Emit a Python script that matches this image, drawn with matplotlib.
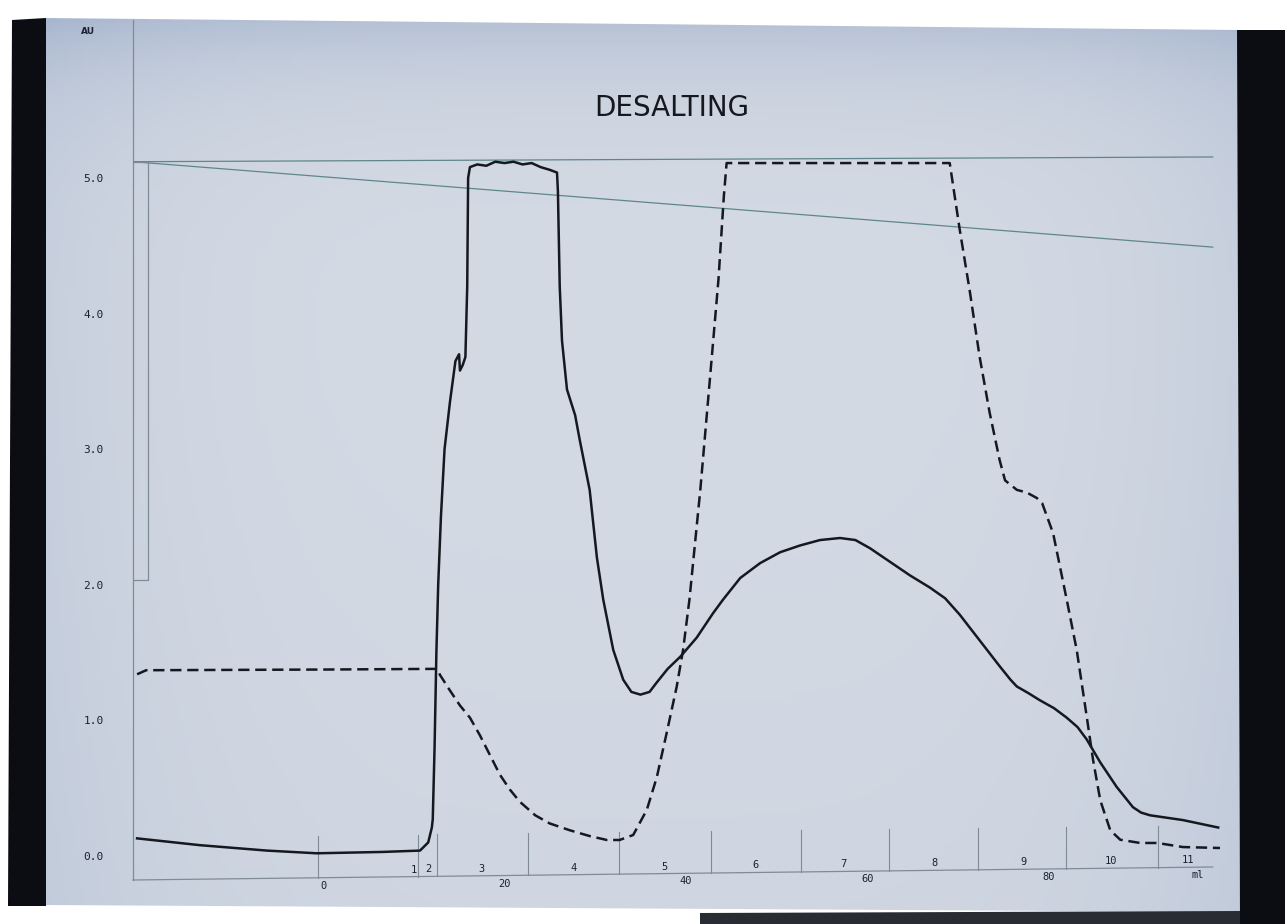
import numpy as np
import matplotlib.pyplot as plt
from matplotlib.patches import Polygon

W, H = 1285, 924

# UV trace (solid), volume in ml vs absorbance in AU
uv_ml = [-20.5, -13.6, -6.2, -0.7, 6.6, 10.7, 11.6, 12.0, 12.1, 12.3, 12.5, 12.7, 13.0,
         13.4, 14.0, 14.6, 15.0, 15.1, 15.4, 15.7, 15.9, 16.0, 16.2, 17.0, 18.0, 19.0,
         20.0, 21.0, 22.0, 23.0, 24.0, 25.0, 25.8, 25.9, 26.1, 26.35, 26.9, 27.8, 28.3,
         29.4, 30.2, 30.9, 32.0, 33.1, 34.0, 35.0, 36.0, 36.8, 38.0, 39.4, 41.2, 43.0,
         44.1, 46.0, 48.2, 50.4, 52.6, 54.8, 57.0, 58.7, 60.3, 62.5, 64.7, 66.9, 68.6,
         70.2, 72.4, 74.6, 75.8, 76.5, 77.8, 79.0, 80.6, 82.0, 83.2, 84.2, 85.7, 87.5,
         89.3, 90.2, 91.2, 94.8, 98.7]
uv_au = [0.13, 0.08, 0.04, 0.02, 0.03, 0.04, 0.10, 0.21, 0.27, 0.80, 1.50, 2.00, 2.50,
         3.00, 3.35, 3.65, 3.70, 3.58, 3.62, 3.68, 4.20, 5.00, 5.08, 5.10, 5.09, 5.12,
         5.11, 5.12, 5.10, 5.11, 5.08, 5.06, 5.04, 4.90, 4.20, 3.80, 3.44, 3.25, 3.07,
         2.70, 2.20, 1.89, 1.52, 1.30, 1.21, 1.19, 1.21, 1.28, 1.38, 1.47, 1.61, 1.79,
         1.89, 2.05, 2.16, 2.24, 2.29, 2.33, 2.345, 2.33, 2.27, 2.17, 2.07, 1.98, 1.90,
         1.78, 1.59, 1.40, 1.30, 1.25, 1.20, 1.15, 1.09, 1.02, 0.95, 0.86, 0.69, 0.51,
         0.36, 0.32, 0.30, 0.265, 0.21]

# conductivity trace (dashed)
cond_ml = [-20.5, -19.5, 0.0, 12.6, 12.9, 14.0, 15.1, 16.2, 17.3, 18.4, 19.5, 20.6,
           21.7, 23.4, 25.0, 27.2, 29.4, 31.3, 32.7, 34.2, 35.7, 36.8, 37.9, 39.0, 39.7,
           40.4, 41.6, 42.7, 43.6, 44.2, 44.5, 69.1, 70.2, 71.3, 72.4, 73.5, 74.6, 75.2,
           76.5, 77.6, 78.7, 79.3, 80.5, 82.0, 83.1, 84.2, 84.9, 85.7, 86.8, 87.9, 90.1,
           92.0, 94.8, 98.9]
cond_au = [1.34, 1.37, 1.375, 1.38, 1.335, 1.22, 1.11, 1.02, 0.89, 0.745, 0.60, 0.49,
           0.40, 0.30, 0.24, 0.19, 0.147, 0.118, 0.118, 0.155, 0.34, 0.58, 0.91, 1.25,
           1.52, 1.89, 2.70, 3.55, 4.25, 4.87, 5.11, 5.11, 4.62, 4.17, 3.68, 3.27, 2.92,
           2.77, 2.70, 2.68, 2.64, 2.60, 2.38, 1.89, 1.52, 1.03, 0.71, 0.41, 0.19, 0.12,
           0.096, 0.096, 0.066, 0.059]

# thin reference traces
range_top = [5.12, 5.155]
gradient_line = [5.12, 4.49]
inject_box_ml = [-20.95, -19.3, -19.3, -20.95]
inject_box_au = [5.12, 5.12, 2.035, 2.035]

y_ticks = [0, 1, 2, 3, 4, 5]
y_labels = ['0.0', '1.0', '2.0', '3.0', '4.0', '5.0']
vol_ticks = [0, 20, 40, 60, 80]
frac_marks = [-0.55, 10.47, 12.57, 22.6, 32.6, 42.8, 52.7, 62.4, 72.2, 81.9, 92.1]
frac_labels = ['1', '2', '3', '4', '5', '6', '7', '8', '9', '10', '11']
frac_label_ml = [10.0, 11.6, 17.5, 27.6, 37.6, 47.7, 57.4, 67.4, 77.2, 86.9, 95.4]

XMIN, XMAX = -20.95, 99.12
YMIN, YMAX = -0.177, 6.165
X_END = 98.1
base_left, base_right = -0.177, -0.081   # printout is slightly tilted in the photo

ink = '#15181f'
thin = '#5f868c'
grid_gray = '#7f8c98'
txt = '#1b2130'


def baseline(x):
    return base_left + (np.asarray(x) - XMIN) * (base_right - base_left) / (X_END - XMIN)


fig = plt.figure(figsize=(W / 100, H / 100), dpi=100)
fig.patch.set_facecolor('white')

# photo background: paper sheet plus dark surroundings
bg = fig.add_axes([0, 0, 1, 1])
bg.set_xlim(0, W)
bg.set_ylim(H, 0)
bg.axis('off')

yy, xx = np.mgrid[0:1:200j, 0:1:260j]
d = 0.85 * np.exp(-yy / 0.07) + 0.35 * ((xx - 0.5) * 2) ** 4 + 0.12 * yy ** 2
d = np.clip(d, 0, 1)[..., None]
c_center = np.array([0.835, 0.858, 0.895])
c_edge = np.array([0.64, 0.70, 0.80])
img = c_center * (1 - d) + c_edge * d
paper = Polygon([(45, 18), (1237, 30), (1240, 912), (45, 905)], closed=True,
                facecolor='none', edgecolor='none')
bg.add_patch(paper)
im = bg.imshow(img, extent=(0, W, H, 0), aspect='auto', zorder=1)
im.set_clip_path(paper)

bg.add_patch(Polygon([(12, 20), (46, 18), (46, 906), (8, 906)], closed=True,
                     facecolor='#0c0d12', edgecolor='none', zorder=2))
bg.add_patch(Polygon([(1237, 30), (W, 30), (W, H), (1240, H)], closed=True,
                     facecolor='#0c0d12', edgecolor='none', zorder=2))
bg.add_patch(Polygon([(700, 913), (1240, 911), (1240, H), (700, H)], closed=True,
                     facecolor='#2a2c33', edgecolor='none', zorder=2))

# chart
ax = fig.add_axes([133 / W, (H - 880) / H, (1222 - 133) / W, (880 - 20) / H])
ax.patch.set_alpha(0)
ax.set_xlim(XMIN, XMAX)
ax.set_ylim(YMIN, YMAX)
for s in ['top', 'right', 'bottom']:
    ax.spines[s].set_visible(False)
ax.spines['left'].set_color(grid_gray)
ax.spines['left'].set_linewidth(0.9)
ax.set_xticks([])
ax.set_yticks(y_ticks)
ax.set_yticklabels(y_labels, family='DejaVu Sans Mono', fontsize=8, color=txt)
ax.tick_params(axis='y', length=0, pad=21)

ax.plot([XMIN, X_END], [base_left, base_right], color=grid_gray, lw=0.9, clip_on=False)
ax.plot([XMIN, X_END], range_top, color=thin, lw=0.9)
ax.plot([XMIN, X_END], gradient_line, color=thin, lw=0.9)
ax.plot(inject_box_ml, inject_box_au, color=grid_gray, lw=0.9)

for m in frac_marks:
    b = float(baseline(m))
    ax.plot([m, m], [b, b + 0.31], color=grid_gray, lw=0.8, clip_on=False)

px = (YMAX - YMIN) / 860.0
for lab, m in zip(frac_labels, frac_label_ml):
    ax.text(m, float(baseline(m)) + 7 * px, lab, ha='center', va='center',
            family='DejaVu Sans Mono', fontsize=7.5, color=txt, clip_on=False)
for v in vol_ticks:
    ax.text(v, float(baseline(v)) - 8 * px, str(v), ha='center', va='center',
            family='DejaVu Sans Mono', fontsize=7.5, color=txt, clip_on=False)
ax.text(96.5, float(baseline(96.5)) - 8 * px, 'ml', ha='center', va='center',
        family='DejaVu Sans Mono', fontsize=7.5, color=txt, clip_on=False)

ax.plot(uv_ml, uv_au, color=ink, lw=1.8, solid_joinstyle='round')
ax.plot(cond_ml, cond_au, color=ink, lw=1.8, linestyle=(0, (4.5, 2.3)))

fig.text(88 / W, 1 - 32 / H, 'AU', ha='center', va='center', fontsize=6.5,
         fontweight='bold', color=txt)
fig.text(672 / W, 1 - 108 / H, 'DESALTING', ha='center', va='center', fontsize=20,
         color=ink)

fig.savefig('out.png', dpi=100)
